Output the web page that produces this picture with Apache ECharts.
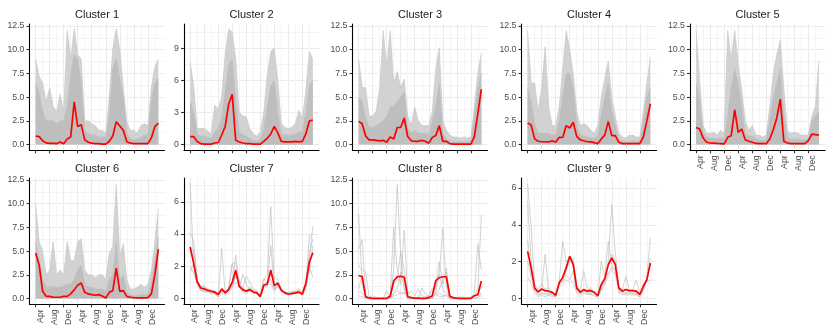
<!DOCTYPE html>
<html>
<head>
<meta charset="utf-8">
<title>Clusters</title>
<script src="https://cdn.jsdelivr.net/npm/echarts@6/dist/echarts.min.js"></script>
<style>
  html, body { margin: 0; padding: 0; background: #fff; }
  #chart { width: 830px; height: 332px; }
</style>
</head>
<body>
<div id="chart"></div>
<script>
// One value per month, Apr of year 1 up to Mar of year 4
const months = [
  'Apr', 'May', 'Jun', 'Jul', 'Aug', 'Sep', 'Oct', 'Nov', 'Dec', 'Jan', 'Feb', 'Mar',
  'Apr', 'May', 'Jun', 'Jul', 'Aug', 'Sep', 'Oct', 'Nov', 'Dec', 'Jan', 'Feb', 'Mar',
  'Apr', 'May', 'Jun', 'Jul', 'Aug', 'Sep', 'Oct', 'Nov', 'Dec', 'Jan', 'Feb', 'Mar'
];
const xTicks = [0, 4, 8, 12, 16, 20, 24, 28, 32];
const xTickLabels = ['Apr', 'Aug', 'Dec', 'Apr', 'Aug', 'Dec', 'Apr', 'Aug', 'Dec'];
const xMinor = [2, 6, 10, 14, 18, 22, 26, 30, 34];

const yTicks125 = [0, 2.5, 5, 7.5, 10, 12.5];
const yMinor125 = [1.25, 3.75, 6.25, 8.75, 11.25];
const yTicks9 = [0, 3, 6, 9];
const yMinor9 = [1.5, 4.5, 7.5, 10.5];
const yTicks6 = [0, 2, 4, 6];
const yMinor7 = [1, 3, 5, 7];
const yMinor6 = [1, 3, 5];

// cluster means (red)
const c1Mean = [0.9, 0.85, 0.4, 0.18, 0.12, 0.12, 0.1, 0.28, 0.1, 0.6, 0.8, 4.5, 1.9, 2.1, 0.5, 0.25, 0.15, 0.1, 0.1, 0.05, 0.05, 0.35, 0.9, 2.4, 1.95, 1.5, 0.3, 0.15, 0.1, 0.1, 0.1, 0.1, 0.1, 0.7, 1.9, 2.25];
const c2Mean = [0.75, 0.75, 0.3, 0.1, 0.05, 0.05, 0.05, 0.15, 0.2, 0.9, 1.7, 3.8, 4.7, 0.4, 0.25, 0.15, 0.1, 0.1, 0.05, 0.05, 0.05, 0.3, 0.6, 1.0, 1.7, 1.1, 0.3, 0.25, 0.25, 0.25, 0.3, 0.25, 0.3, 1.0, 2.2, 2.3];
const c3Mean = [2.45, 2.2, 0.9, 0.5, 0.5, 0.45, 0.4, 0.45, 0.25, 0.8, 0.6, 1.8, 1.8, 2.8, 0.85, 0.4, 0.35, 0.35, 0.45, 0.35, 0.15, 0.75, 0.95, 2.0, 0.35, 0.35, 0.1, 0.05, 0.05, 0.05, 0.05, 0.05, 0.05, 0.85, 3.3, 5.85];
const c4Mean = [2.27, 2.06, 0.6, 0.35, 0.3, 0.3, 0.28, 0.4, 0.24, 0.77, 0.75, 2.0, 1.75, 2.35, 0.87, 0.5, 0.4, 0.3, 0.28, 0.2, 0.1, 0.6, 1.0, 2.45, 0.95, 0.95, 0.24, 0.1, 0.1, 0.1, 0.1, 0.1, 0.1, 0.8, 2.5, 4.3];
const c5Mean = [1.8, 1.64, 0.7, 0.25, 0.17, 0.15, 0.12, 0.1, 0.07, 0.77, 0.94, 3.67, 1.3, 1.64, 0.52, 0.35, 0.25, 0.12, 0.1, 0.1, 0.1, 0.6, 1.57, 2.8, 4.78, 0.35, 0.17, 0.1, 0.1, 0.1, 0.1, 0.1, 0.42, 1.1, 1.05, 1.0];
const c6Mean = [4.8, 3.55, 0.77, 0.24, 0.24, 0.14, 0.14, 0.14, 0.24, 0.24, 0.5, 0.94, 1.4, 1.64, 0.66, 0.49, 0.42, 0.35, 0.42, 0.28, 0.07, 0.66, 0.84, 3.2, 0.77, 0.84, 0.24, 0.14, 0.1, 0.07, 0.07, 0.07, 0.1, 0.5, 2.5, 5.2];
const c7Mean = [3.2, 2.2, 1.05, 0.65, 0.6, 0.5, 0.45, 0.4, 0.25, 0.6, 0.35, 0.55, 1.0, 1.75, 0.75, 0.55, 0.45, 0.55, 0.4, 0.35, 0.12, 0.82, 0.9, 1.75, 0.8, 0.95, 0.5, 0.35, 0.28, 0.3, 0.35, 0.4, 0.27, 0.93, 2.25, 2.85];
const c8Mean = [2.44, 2.3, 0.2, 0.07, 0.03, 0.03, 0.02, 0.02, 0.03, 0.25, 1.85, 2.3, 2.35, 2.25, 0.2, 0.1, 0.05, 0.04, 0.03, 0.03, 0.1, 0.3, 1.9, 2.2, 2.3, 2.3, 0.25, 0.1, 0.05, 0.03, 0.03, 0.03, 0.05, 0.3, 0.4, 1.85];
const c9Mean = [2.56, 1.66, 0.58, 0.36, 0.52, 0.43, 0.4, 0.34, 0.18, 0.85, 1.15, 1.66, 2.29, 1.84, 0.58, 0.34, 0.49, 0.4, 0.43, 0.34, 0.16, 0.76, 1.08, 1.84, 2.2, 1.84, 0.58, 0.4, 0.49, 0.43, 0.43, 0.4, 0.22, 0.67, 1.03, 1.93];

// big clusters: upper edge of all the grey lines, and of the dense core
const c1Outer = [9.0, 7.2, 6.5, 4.5, 6.0, 4.0, 3.5, 5.3, 3.5, 12.0, 9.0, 12.2, 9.5, 9.0, 2.5, 2.5, 2.2, 2.0, 1.5, 1.5, 1.2, 5.0, 10.1, 12.2, 10.0, 6.0, 2.4, 1.5, 1.5, 1.2, 2.0, 2.2, 2.0, 6.0, 8.2, 9.0];
const c1Core = [6.5, 5.5, 3.5, 2.5, 2.5, 2.5, 2.2, 2.5, 2.5, 4.0, 7.5, 9.5, 9.0, 6.5, 1.5, 1.2, 1.0, 1.0, 0.8, 0.8, 0.8, 3.0, 8.0, 9.0, 7.0, 5.0, 1.2, 0.6, 0.5, 0.6, 0.8, 1.0, 1.0, 4.5, 6.5, 7.0];
const c2Outer = [7.7, 5.5, 1.5, 1.5, 1.5, 1.3, 1.0, 3.7, 3.3, 4.5, 8.5, 10.8, 10.5, 8.0, 3.0, 2.7, 2.6, 1.5, 1.0, 0.8, 1.2, 3.0, 6.5, 8.7, 9.0, 6.0, 2.0, 1.6, 1.5, 1.6, 2.0, 3.2, 2.5, 5.0, 8.7, 8.0];
const c2Core = [4.0, 3.0, 1.0, 0.8, 0.8, 0.7, 0.6, 1.2, 1.5, 2.5, 5.0, 7.5, 8.0, 4.0, 1.2, 0.9, 0.8, 0.6, 0.4, 0.3, 0.5, 1.5, 3.5, 5.5, 6.0, 3.0, 1.0, 0.9, 0.9, 0.9, 1.0, 1.2, 1.2, 3.0, 5.5, 6.0];
const c3Outer = [9.0, 6.0, 6.0, 3.0, 3.0, 3.5, 6.0, 12.0, 8.2, 12.0, 6.5, 7.7, 6.0, 6.9, 3.0, 2.0, 4.0, 2.5, 2.0, 2.0, 2.0, 3.5, 8.0, 10.2, 2.5, 1.5, 1.0, 0.8, 0.8, 0.7, 0.8, 0.7, 0.8, 4.0, 7.5, 9.7];
const c3Core = [5.0, 4.5, 2.8, 1.8, 1.8, 2.0, 2.2, 2.5, 3.0, 4.0, 4.0, 4.5, 5.0, 5.5, 1.8, 1.2, 1.5, 1.2, 1.2, 1.2, 1.0, 2.5, 4.0, 6.5, 1.2, 0.6, 0.4, 0.3, 0.3, 0.3, 0.3, 0.3, 0.4, 3.0, 6.0, 7.5];
const c4Outer = [12.0, 6.5, 6.5, 3.5, 6.0, 10.3, 4.0, 2.0, 2.0, 4.0, 8.0, 12.0, 10.0, 7.5, 3.5, 2.0, 2.2, 2.0, 1.5, 1.2, 2.0, 5.0, 7.0, 8.8, 5.0, 3.0, 1.2, 0.8, 0.7, 1.0, 1.0, 0.8, 0.8, 3.5, 6.5, 9.2];
const c4Core = [6.0, 4.5, 2.2, 1.2, 1.2, 1.2, 1.2, 1.0, 1.0, 2.5, 5.0, 7.5, 7.5, 6.0, 2.0, 1.0, 0.9, 0.8, 0.7, 0.6, 1.0, 3.0, 5.0, 6.5, 3.5, 2.0, 0.6, 0.4, 0.3, 0.3, 0.4, 0.3, 0.4, 2.5, 5.0, 6.0];
const c5Outer = [12.0, 6.8, 2.0, 1.2, 1.2, 1.3, 1.0, 1.5, 1.2, 12.0, 9.0, 12.0, 8.5, 5.8, 2.5, 1.5, 2.0, 1.0, 1.0, 0.8, 1.0, 4.0, 7.5, 9.5, 11.0, 6.0, 1.5, 1.2, 1.3, 1.2, 1.0, 1.0, 1.0, 3.0, 4.0, 8.9];
const c5Core = [6.5, 4.5, 1.2, 0.8, 0.7, 0.7, 0.6, 0.7, 0.6, 3.0, 6.0, 8.0, 6.5, 4.0, 1.2, 0.9, 0.9, 0.6, 0.5, 0.4, 0.5, 2.5, 5.0, 6.5, 8.0, 3.0, 0.8, 0.5, 0.6, 0.6, 0.5, 0.5, 0.6, 2.5, 3.0, 3.5];
const c6Outer = [10.0, 6.0, 5.0, 2.5, 3.0, 6.0, 2.5, 3.0, 2.5, 6.0, 4.0, 4.0, 6.0, 6.3, 3.0, 2.5, 2.5, 2.2, 2.5, 2.5, 2.0, 4.8, 5.5, 12.0, 4.5, 5.8, 2.0, 1.0, 1.0, 1.2, 1.5, 1.2, 1.5, 3.0, 6.0, 9.5];
const c6Core = [6.0, 4.0, 2.0, 1.2, 1.2, 1.3, 1.2, 1.2, 1.3, 1.5, 1.5, 2.0, 3.0, 3.5, 1.5, 1.2, 1.2, 1.0, 1.0, 1.0, 0.8, 2.0, 2.5, 6.0, 2.0, 2.5, 0.7, 0.4, 0.3, 0.3, 0.4, 0.4, 0.5, 1.8, 4.0, 6.5];

// small clusters: single grey members
const c7Lines = [
  [7.2, 2.0, 0.9, 0.7, 0.8, 0.6, 0.5, 0.4, 0.3, 0.5, 0.4, 0.6, 1.0, 2.7, 1.0, 0.6, 0.5, 0.7, 0.5, 0.4, 0.1, 1.2, 1.4, 5.7, 1.0, 1.0, 0.6, 0.4, 0.3, 0.4, 0.4, 0.5, 0.3, 1.0, 2.5, 4.5],
  [4.1, 3.6, 1.2, 0.6, 0.5, 0.4, 0.4, 0.3, 0.1, 3.1, 0.3, 0.5, 2.2, 2.2, 0.7, 1.5, 0.9, 0.6, 0.4, 0.3, 0.1, 0.9, 0.8, 3.3, 0.6, 0.9, 0.5, 0.3, 0.3, 0.3, 0.3, 0.4, 0.3, 0.8, 3.9, 4.0],
  [1.6, 2.2, 0.9, 0.5, 0.4, 0.4, 0.3, 0.3, 0.1, 0.3, 0.2, 0.4, 0.6, 1.5, 0.8, 0.4, 0.3, 0.5, 0.4, 0.3, 0.1, 0.7, 0.9, 1.2, 0.5, 0.8, 0.5, 0.3, 0.2, 0.3, 0.3, 0.4, 0.2, 0.6, 1.8, 3.3],
  [3.0, 3.0, 1.1, 0.8, 0.7, 0.6, 0.5, 0.5, 0.3, 0.4, 0.4, 0.6, 0.8, 1.4, 0.9, 0.6, 1.4, 1.0, 0.6, 0.5, 0.2, 1.2, 1.0, 1.5, 1.3, 1.2, 0.6, 0.4, 0.4, 0.4, 0.5, 0.6, 0.4, 1.0, 2.0, 1.3],
  [2.0, 1.6, 0.9, 0.5, 0.5, 0.5, 0.4, 0.4, 0.2, 0.5, 0.3, 0.5, 0.7, 1.0, 0.7, 0.5, 0.4, 0.5, 0.4, 0.3, 0.1, 0.6, 0.8, 0.9, 0.5, 0.7, 0.5, 0.3, 0.3, 0.3, 0.3, 0.4, 0.3, 0.7, 2.1, 1.9],
  [3.2, 3.0, 1.2, 0.7, 0.6, 0.5, 0.5, 0.4, 0.2, 0.4, 0.4, 0.7, 2.1, 1.7, 1.1, 0.6, 0.5, 0.6, 0.5, 0.4, 0.2, 0.9, 1.0, 1.8, 0.7, 1.0, 0.6, 0.4, 0.3, 0.4, 0.4, 0.5, 0.3, 0.8, 2.8, 3.7]
];
const c8Lines = [
  [9.0, 1.5, 0.1, 0, 0, 0, 0, 0, 0, 0.2, 3.0, 12.0, 4.5, 1.0, 0, 0, 0, 0, 0, 0, 0, 0.3, 1.5, 2.5, 7.4, 1.2, 0, 0, 0, 0, 0, 0, 0, 0.3, 1.0, 8.8],
  [5.2, 6.2, 0.3, 0, 0, 0, 0, 0, 0, 0.5, 7.5, 3.0, 1.5, 7.2, 0.5, 0.8, 0.3, 1.0, 0.3, 0.2, 0.2, 1.1, 1.0, 3.9, 1.5, 3.2, 0.3, 0, 0, 0, 0, 0, 0, 0.6, 5.7, 3.0],
  [3.5, 3.0, 2.8, 0.2, 0.3, 0.1, 0, 0, 0.8, 0.2, 1.5, 2.0, 5.0, 3.0, 0.3, 0.1, 0, 0, 1.1, 0.5, 0.2, 0, 0.8, 2.5, 1.0, 0.5, 0.2, 0, 0.1, 0.2, 0, 0, 0, 0.2, 0.5, 1.2],
  [1.0, 2.5, 0.2, 0, 0, 0, 0, 0, 0, 0, 0.6, 1.0, 2.8, 1.2, 0, 0, 0, 0, 0, 0, 0, 0, 0.5, 1.0, 2.0, 2.8, 0, 0, 0, 0, 0, 0, 0, 0, 0.2, 0.5],
  [0.3, 0.2, 0, 0, 0, 0, 0, 0, 0, 0, 0.3, 0.4, 0.6, 0.5, 0.8, 0.3, 0, 0, 0, 0, 0, 0.2, 0.4, 0.6, 0.3, 0.3, 0, 0, 0, 0, 0, 0, 0, 0, 0.1, 0.3],
  [0.8, 0.6, 0, 0, 0, 0, 0, 0, 0, 0.3, 0.5, 0.8, 0.5, 0.7, 0, 0, 0, 0, 0, 0, 0.4, 0.8, 0.5, 0.2, 0.2, 0.4, 0, 0, 0, 0, 0, 0, 0, 0.3, 0.6, 0.5]
];
const c9Lines = [
  [6.2, 4.0, 0.6, 0.2, 0.3, 0.3, 0.2, 0.2, 0.1, 0.8, 1.2, 1.8, 2.3, 2.0, 0.5, 0.3, 0.4, 0.3, 0.3, 0.3, 0.1, 0.6, 1.0, 2.0, 5.1, 2.5, 0.5, 0.3, 0.3, 0.3, 0.3, 0.3, 0.2, 0.5, 1.2, 3.3],
  [5.3, 2.0, 0.5, 0.3, 0.5, 2.4, 0.3, 0.3, 0.2, 0.9, 3.1, 2.0, 2.2, 1.8, 0.7, 0.4, 1.5, 0.5, 0.5, 0.3, 0.1, 2.0, 1.2, 3.1, 1.8, 1.5, 0.6, 0.5, 1.2, 0.5, 0.4, 0.3, 0.2, 0.8, 0.9, 2.2],
  [3.2, 1.5, 0.8, 0.5, 0.8, 0.5, 0.6, 0.4, 0.2, 0.7, 1.0, 1.5, 2.0, 2.2, 0.6, 0.3, 0.5, 0.4, 0.6, 0.3, 0.2, 0.8, 1.1, 1.8, 2.4, 2.0, 0.5, 0.4, 0.5, 0.4, 0.5, 1.0, 0.3, 0.6, 1.0, 1.9],
  [2.0, 1.2, 0.4, 0.2, 0.3, 0.2, 0.3, 0.2, 0.1, 1.0, 0.9, 1.3, 1.0, 1.5, 0.4, 0.2, 0.4, 0.3, 0.2, 0.2, 0.1, 0.5, 0.9, 1.4, 1.7, 1.6, 0.4, 0.3, 0.3, 0.3, 0.3, 0.2, 0.1, 0.5, 1.0, 1.0],
  [1.2, 0.8, 0.3, 0.1, 0.2, 0.1, 0.2, 0.1, 0.1, 0.6, 0.8, 1.0, 0.9, 0.9, 0.3, 0.1, 0.3, 0.2, 0.3, 0.1, 0.1, 0.4, 0.8, 1.2, 1.6, 1.3, 0.3, 0.2, 0.2, 0.2, 0.2, 0.2, 0.1, 0.4, 1.0, 0.8]
];

const panels = [
  { name: 'Cluster 1', mean: c1Mean, outer: c1Outer, core: c1Core, ticks: yTicks125, minor: yMinor125, min: -0.6, max: 12.7 },
  { name: 'Cluster 2', mean: c2Mean, outer: c2Outer, core: c2Core, ticks: yTicks9, minor: yMinor9, min: -0.53, max: 11.27 },
  { name: 'Cluster 3', mean: c3Mean, outer: c3Outer, core: c3Core, ticks: yTicks125, minor: yMinor125, min: -0.6, max: 12.7 },
  { name: 'Cluster 4', mean: c4Mean, outer: c4Outer, core: c4Core, ticks: yTicks125, minor: yMinor125, min: -0.6, max: 12.7 },
  { name: 'Cluster 5', mean: c5Mean, outer: c5Outer, core: c5Core, ticks: yTicks125, minor: yMinor125, min: -0.6, max: 12.7 },
  { name: 'Cluster 6', mean: c6Mean, outer: c6Outer, core: c6Core, ticks: yTicks125, minor: yMinor125, min: -0.6, max: 12.7 },
  { name: 'Cluster 7', mean: c7Mean, lines: c7Lines, ticks: yTicks6, minor: yMinor7, min: -0.36, max: 7.48 },
  { name: 'Cluster 8', mean: c8Mean, lines: c8Lines, ticks: yTicks125, minor: yMinor125, min: -0.6, max: 12.7 },
  { name: 'Cluster 9', mean: c9Mean, lines: c9Lines, ticks: yTicks6, minor: yMinor6, min: -0.31, max: 6.54 }
];

// facet layout
const colLeft = [29.5, 184, 352.5, 521.5, 690];
const rowTop = [24, 178];
const panelW = 135;
const panelH = 126.3;
const font = '"Liberation Sans", Arial, sans-serif';
const gridMajor = '#ebebeb';
const gridMinor = '#f4f4f4';
const greyLine = '#bebebe';

const toPoints = vals => months.map((m, i) => [i, vals[i]]);

const grids = [], xAxes = [], yAxes = [], series = [], titles = [];

panels.forEach((p, k) => {
  const col = k % 5;
  const row = Math.floor(k / 5);
  const left = colLeft[col];
  const top = rowTop[row];
  grids.push({ left: left, top: top, width: panelW, height: panelH });

  titles.push({
    type: 'text',
    x: left + panelW / 2,
    y: top - 9,
    style: {
      text: p.name, fill: '#1a1a1a', fontSize: 11, fontFamily: font,
      align: 'center', verticalAlign: 'middle'
    }
  });

  const withLabels = k >= 4;
  const decimals = p.ticks === yTicks125 ? 1 : 0;

  // minor grid lines
  xAxes.push({
    type: 'value', gridIndex: k, position: 'top', min: -1.75, max: 36.75,
    axisLine: { show: false }, axisTick: { show: false, customValues: xMinor },
    axisLabel: { show: false },
    splitLine: { show: true, lineStyle: { color: gridMinor, width: 1 } }
  });
  yAxes.push({
    type: 'value', gridIndex: k, position: 'right', min: p.min, max: p.max,
    axisLine: { show: false }, axisTick: { show: false, customValues: p.minor },
    axisLabel: { show: false },
    splitLine: { show: true, lineStyle: { color: gridMinor, width: 1 } }
  });

  // main axes
  xAxes.push({
    type: 'value', gridIndex: k, position: 'bottom', min: -1.75, max: 36.75,
    axisLine: { show: true, onZero: false, lineStyle: { color: '#000', width: 1.1 } },
    axisTick: { show: true, customValues: xTicks, length: 3, lineStyle: { color: '#333', width: 1.1 } },
    axisLabel: {
      show: withLabels, customValues: xTicks,
      formatter: v => xTickLabels[xTicks.indexOf(v)],
      rotate: 90, verticalAlign: 'top', margin: 5,
      fontSize: 8.8, fontFamily: font, color: '#4d4d4d'
    },
    splitLine: { show: true, lineStyle: { color: gridMajor, width: 1 } }
  });
  yAxes.push({
    type: 'value', gridIndex: k, position: 'left', min: p.min, max: p.max,
    axisLine: { show: true, onZero: false, lineStyle: { color: '#000', width: 1.1 } },
    axisTick: { show: true, customValues: p.ticks, length: 3, lineStyle: { color: '#333', width: 1.1 } },
    axisLabel: {
      customValues: p.ticks, formatter: v => v.toFixed(decimals), margin: 5,
      fontSize: 8.8, fontFamily: font, color: '#4d4d4d'
    },
    splitLine: { show: true, lineStyle: { color: gridMajor, width: 1 } }
  });

  const xi = 2 * k + 1;
  const base = { type: 'line', xAxisIndex: xi, yAxisIndex: xi, symbol: 'none', silent: true, animation: false };

  if (p.outer) {
    series.push(Object.assign({}, base, {
      data: toPoints(p.outer), z: 2,
      lineStyle: { color: '#c4c4c4', width: 0.6 },
      areaStyle: { color: '#d2d2d2', opacity: 1 }
    }));
    series.push(Object.assign({}, base, {
      data: toPoints(p.core), z: 3,
      lineStyle: { color: greyLine, width: 0.6 },
      areaStyle: { color: greyLine, opacity: 1 }
    }));
  } else {
    p.lines.forEach(line => {
      series.push(Object.assign({}, base, {
        data: toPoints(line), z: 3,
        lineStyle: { color: greyLine, width: 0.7 }
      }));
    });
  }
  series.push(Object.assign({}, base, {
    data: toPoints(p.mean), z: 5,
    lineStyle: { color: '#ff0000', width: 1.7 }
  }));
});

const chart = echarts.init(document.getElementById('chart'));
chart.setOption({
  animation: false,
  backgroundColor: '#fff',
  grid: grids,
  xAxis: xAxes,
  yAxis: yAxes,
  series: series,
  graphic: titles
});
window.addEventListener('resize', () => chart.resize());
</script>
</body>
</html>
